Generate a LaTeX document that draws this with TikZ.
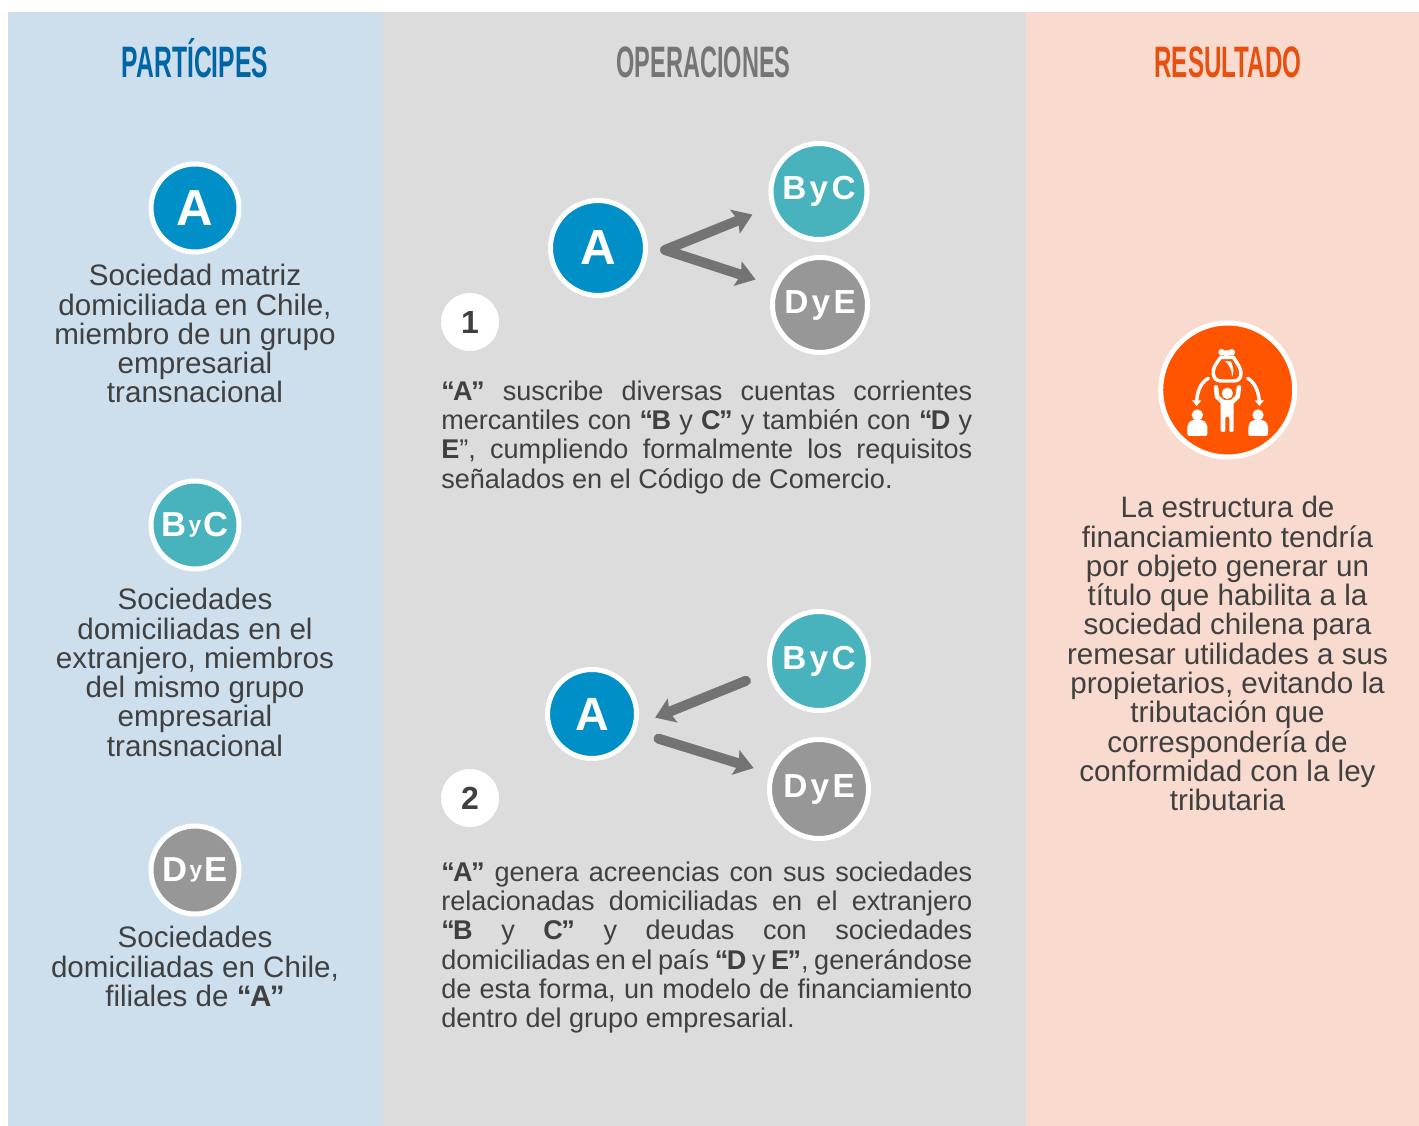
\documentclass[tikz,border=0pt]{standalone}
\usepackage{fontspec}
\usepackage{graphicx}
\setmainfont{Liberation Sans}
\usetikzlibrary{arrows.meta,calc}
\definecolor{pblue}{HTML}{CDDFEC}
\definecolor{pgray}{HTML}{DCDCDC}
\definecolor{ppeach}{HTML}{F8DBCE}
\definecolor{cblue}{HTML}{0090C7}
\definecolor{cteal}{HTML}{48B3BC}
\definecolor{cgray}{HTML}{979797}
\definecolor{corange}{HTML}{FF5500}
\definecolor{txt}{HTML}{404040}
\definecolor{arrowc}{HTML}{737373}
\definecolor{hblue}{HTML}{0065A4}
\definecolor{hgray}{HTML}{757575}
\definecolor{horange}{HTML}{E8500F}
\newlength{\px}\setlength{\px}{0.75pt}
\newcommand{\bodyfont}{\fontsize{22.2}{21.97}\selectfont}
\newcommand{\parafont}{\fontsize{20.3}{21.97}\selectfont\hyphenpenalty=10000\exhyphenpenalty=10000 }
\newcommand{\hd}[2]{\scalebox{#1}[1]{\fontsize{33}{36}\selectfont\bfseries #2}}
\newcommand{\smally}{\raisebox{3.6pt}{\fontsize{17}{17}\selectfont y}}
\newcommand{\qo}{\textbf{“}\kern-1.2pt}
\newcommand{\qc}{\kern-1.2pt\textbf{”}}
\tikzset{
  x=0.75pt,y=-0.75pt,
  panel/.style={draw=none,fill=#1},
  dot/.style={circle,draw=white,line width=3.75pt,inner sep=0pt,text=white},
  body/.style={text=txt,align=center,anchor=north,inner sep=0pt,font=\bodyfont},
  para/.style={text=txt,align=justify,anchor=north west,inner sep=0pt,text width=531\px,font=\parafont},
  num/.style={circle,fill=white,inner sep=0pt,minimum size=58\px,text=txt,font=\fontsize{24}{26}\selectfont\bfseries},
  head/.style={inner sep=0pt,anchor=base},
  conn/.style={draw=arrowc,line width=7.5pt,line join=round,line cap=round},
  ico/.style={draw=white,fill=none,line cap=round,line join=round},
}
\begin{document}
\begin{tikzpicture}[>={Stealth[length=14pt,width=19pt,inset=2.5pt]}]
\useasboundingbox (0,0) rectangle (1419,1126);
\fill[white] (0,0) rectangle (1419,1126);
\fill[panel=pblue] (8,12) rectangle (382,1126);
\fill[panel=pgray] (382,12) rectangle (1026,1126);
\fill[panel=ppeach] (1026,12) rectangle (1419,1126);

\node[head,text=hblue] (h1) at (195,78) {\hd{0.56}{PARTÍCIPES}};
\node[head,text=hgray] (h2) at (703.5,78) {\hd{0.535}{OPERACIONES}};
\node[head,text=horange] (h3) at (1228,78) {\hd{0.55}{RESULTADO}};

% left column
\node[dot,fill=cblue,minimum size=88\px,font=\fontsize{38}{40}\selectfont\bfseries] (pa) at (195,208) {A};
\node[dot,fill=cteal,minimum size=88\px,font=\fontsize{26}{26}\selectfont\bfseries] (pb) at (195,525) {B\kern1.5pt\smally\kern1.5pt C};
\node[dot,fill=cgray,minimum size=88\px,font=\fontsize{26}{26}\selectfont\bfseries] (pd) at (195,870) {D\kern1.5pt\smally\kern1.5pt E};
\node[body] (ta) at (195,264) {Sociedad matriz\\domiciliada en Chile,\\miembro de un grupo\\empresarial\\transnacional};
\node[body] (tb) at (195,588) {Sociedades\\domiciliadas en el\\extranjero, miembros\\del mismo grupo\\empresarial\\transnacional};
\node[body] (td) at (195,926) {Sociedades\\domiciliadas en Chile,\\filiales de \qo\textbf{A}\qc};

% operation 1
\node[dot,fill=cblue,minimum size=95\px,font=\fontsize{37}{38}\selectfont\bfseries] (a1) at (598,248) {A};
\node[dot,fill=cteal,minimum size=96\px,font=\fontsize{25}{26}\selectfont\bfseries] (b1) at (819,191.5) {B\kern2.5pt y\kern2.5pt C};
\node[dot,fill=cgray,minimum size=95\px,font=\fontsize{25}{26}\selectfont\bfseries] (d1) at (820,305) {D\kern2.5pt y\kern2.5pt E};
\coordinate (fork) at ($(a1.east)+(17,2)$);
\draw[conn,<->,shorten <=15pt,shorten >=14.5pt] (b1.198) -- (fork) -- (d1.157);
\node[num] (n1) at (470,322) {1};
\node[para] (p1) at (441,380.5) {\qo\textbf{A}\qc{} suscribe diversas cuentas corrientes\linebreak mercantiles con \qo\textbf{B} y \textbf{C}\qc{} y también con \qo\textbf{D} y\linebreak \textbf{E}”, cumpliendo formalmente los requisitos\linebreak señalados en el Código de Comercio.};

% operation 2
\node[dot,fill=cblue,minimum size=89\px,font=\fontsize{35}{36}\selectfont\bfseries] (a2) at (592,714) {A};
\node[dot,fill=cteal,minimum size=99\px,font=\fontsize{25}{26}\selectfont\bfseries] (b2) at (819,661) {B\kern2.5pt y\kern2.5pt C};
\node[dot,fill=cgray,minimum size=99\px,font=\fontsize{25}{26}\selectfont\bfseries] (d2) at (819,789) {D\kern2.5pt y\kern2.5pt E};
\draw[conn,->,shorten <=18pt,shorten >=14pt] (b2.192) -- (a2.-13);
\draw[conn,->,shorten <=18pt,shorten >=12.5pt] (a2.-22) -- (d2.162);
\node[num] (n2) at (470,798) {2};
\node[para] (p2) at (441,861.5) {\qo\textbf{A}\qc{} genera acreencias con sus sociedades\linebreak relacionadas domiciliadas en el extranjero\linebreak \qo\textbf{B} y \textbf{C}\qc{} y deudas con sociedades\linebreak domiciliadas en el país \qo\textbf{D} y \textbf{E}\qc, generándose\linebreak de esta forma, un modelo de financiamiento\linebreak dentro del grupo empresarial.};

% result
\node[dot,fill=corange,minimum size=134\px] (r) at (1227.7,390) {};
\begin{scope}[shift={(1130,300)},scale=1/3]
  % money bag
  \fill[white] (275,157) circle (10) (305,157) circle (10) (290,160) circle (10);
  \draw[ico,line width=2.6pt] (272,172) .. controls (255,195) and (248,205) .. (250,222) .. controls (252,238) and (262,243) .. (275,243) -- (310,243) .. controls (325,243) and (333,235) .. (333,220) .. controls (333,205) and (322,190) .. (310,172) -- cycle;
  \fill[white] (285,183) -- (303,185) .. controls (312,205) and (312,220) .. (306,230) .. controls (306,210) and (298,195) .. (285,183) -- cycle;
  % centre person
  \fill[white] (292,280) circle (17);
  \draw[ico,line width=3.4pt] (258,262) -- (261,290) -- (277,305);
  \draw[ico,line width=3.4pt] (327,262) -- (323,290) -- (307,305);
  \fill[white,rounded corners=1pt] (272,300) -- (311,300) -- (311,396) -- (298,396) -- (298,350) -- (286,350) -- (286,396) -- (272,396) -- cycle;
  % arrows
  \draw[ico,line width=2.6pt] (235,235) .. controls (215,245) and (202,270) .. (200,303);
  \fill[white] (186,301) -- (214,301) -- (200,318) -- cycle;
  \draw[ico,line width=2.6pt] (353,235) .. controls (372,245) and (385,270) .. (388,303);
  \fill[white] (374,301) -- (402,301) -- (388,318) -- cycle;
  % side people
  \fill[white] (202,345) circle (17);
  \fill[white,rounded corners=1.5pt] (172,408) -- (172,374) -- (184,360) -- (220,360) -- (232,374) -- (232,408) -- cycle;
  \fill[white] (384,345) circle (17);
  \fill[white,rounded corners=1.5pt] (355,408) -- (355,374) -- (367,360) -- (402,360) -- (414,374) -- (414,408) -- cycle;
\end{scope}
\node[body] (tr) at (1227.5,496) {La estructura de\\financiamiento tendría\\por objeto generar un\\título que habilita a la\\sociedad chilena para\\remesar utilidades a sus\\propietarios, evitando la\\tributación que\\correspondería de\\conformidad con la ley\\tributaria};
\end{tikzpicture}
\end{document}
